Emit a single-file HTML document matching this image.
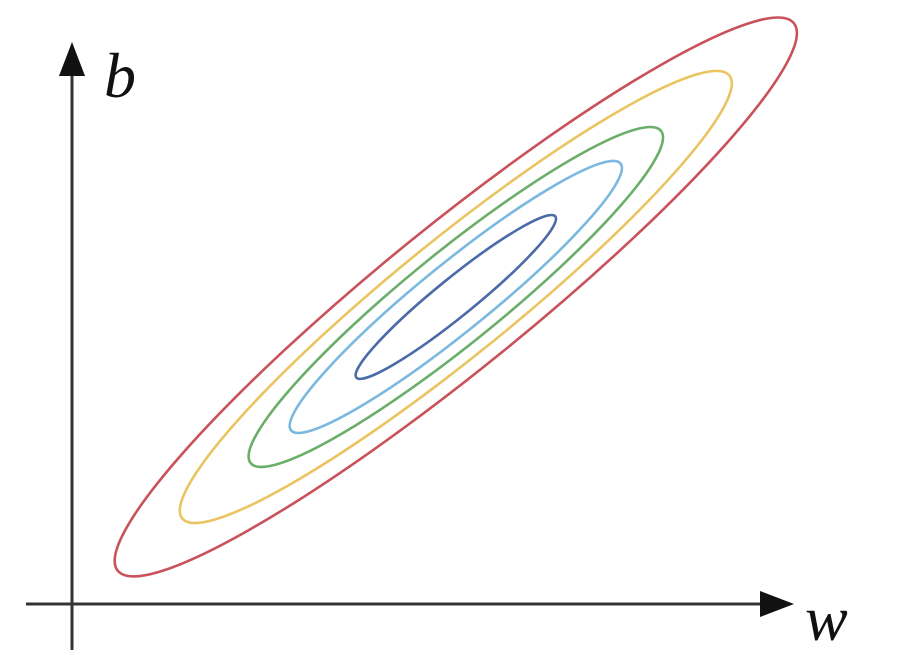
<!DOCTYPE html>
<html><head><meta charset="utf-8"><style>
html,body{margin:0;padding:0;background:#fff;width:900px;height:660px;overflow:hidden}
svg{display:block}
</style></head><body>
<svg id="chart" width="900" height="660" viewBox="0 0 900 660">
  <line x1="72" y1="650" x2="72" y2="70" stroke="#333" stroke-width="3"/>
  <polygon points="72,42 59,76 85,76" fill="#111"/>
  <line x1="26" y1="604" x2="765" y2="604" stroke="#333" stroke-width="3"/>
  <polygon points="794,604 760,591 760,617" fill="#111"/>
  <text x="104" y="97" font-family="Liberation Serif, serif" font-style="italic" font-size="64" fill="#111">b</text>
  <text x="805" y="640" font-family="Liberation Serif, serif" font-style="italic" font-size="64" fill="#111">w</text>
  <g id="contours"></g>
</svg>
<script>
const levels = ["level-5","level-4","level-3","level-2","level-1"];
const semiMajor = [435, 352, 264, 212, 128];
const semiMinor = [72, 58, 46, 34, 19];
const colors = ["#c9525a","#e9c460","#6aae6a","#7ab8e0","#4a6aa8"];
const centerW = 0.505, centerB = 0.505, angleDeg = -39;
function xScale(v){ return 72 + v*760; }
function yScale(v){ return 604 - v*608; }
const g = document.getElementById('contours');
const cx = xScale(centerW), cy = yScale(centerB);
for (let i=0;i<levels.length;i++){
  const e = document.createElementNS('http://www.w3.org/2000/svg','ellipse');
  e.setAttribute('cx', cx);
  e.setAttribute('cy', cy);
  e.setAttribute('rx', semiMajor[i]);
  e.setAttribute('ry', semiMinor[i]);
  e.setAttribute('transform', 'rotate(' + angleDeg + ' ' + cx + ' ' + cy + ')');
  e.setAttribute('fill','none');
  e.setAttribute('stroke', colors[i]);
  e.setAttribute('stroke-width','2.6');
  
  
  g.appendChild(e);
}
</script>
</body></html>
